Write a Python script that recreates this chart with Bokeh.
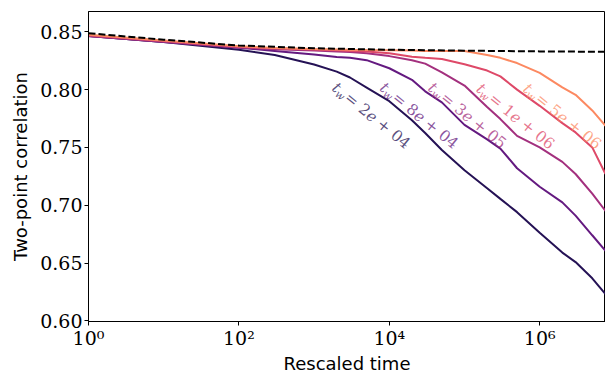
from bokeh.plotting import figure
from bokeh.models import Range1d, FixedTicker, PrintfTickFormatter, ColumnDataSource
from bokeh.core.properties import value
from bokeh.embed import file_html
from bokeh.resources import INLINE
import math

# ---- data ----
times = [1, 10, 100, 300, 1000, 2000, 3000, 5000, 10000, 20000, 30000, 50000,
         100000, 200000, 300000, 500000, 1000000, 2000000, 3000000, 5000000, 7500000]

corr_2e4 = [0.8465, 0.8412, 0.8345, 0.8300, 0.8218, 0.8156, 0.8105, 0.8018, 0.7900, 0.7735, 0.7625,
            0.7478, 0.7302, 0.7147, 0.7055, 0.6940, 0.6762, 0.6590, 0.6508, 0.6368, 0.6231]
corr_8e4 = [0.8465, 0.8412, 0.8362, 0.8335, 0.8305, 0.8283, 0.8275, 0.8255, 0.8185, 0.8085, 0.7985,
            0.7890, 0.7695, 0.7570, 0.7490, 0.7320, 0.7160, 0.7025, 0.6910, 0.6740, 0.6606]
corr_3e5 = [0.8465, 0.8415, 0.8365, 0.8350, 0.8338, 0.8330, 0.8325, 0.8315, 0.8290, 0.8255, 0.8225,
            0.8150, 0.8035, 0.7850, 0.7745, 0.7600, 0.7500, 0.7375, 0.7270, 0.7100, 0.6950]
corr_1e6 = [0.8470, 0.8420, 0.8370, 0.8358, 0.8348, 0.8340, 0.8335, 0.8330, 0.8315, 0.8285, 0.8275,
            0.8265, 0.8220, 0.8165, 0.8115, 0.8000, 0.7860, 0.7710, 0.7630, 0.7500, 0.7270]
corr_5e6 = [0.8475, 0.8425, 0.8375, 0.8360, 0.8352, 0.8348, 0.8345, 0.8342, 0.8340, 0.8338, 0.8335,
            0.8335, 0.8335, 0.8300, 0.8275, 0.8230, 0.8145, 0.8020, 0.7955, 0.7820, 0.7687]

series = [corr_2e4, corr_8e4, corr_3e5, corr_1e6, corr_5e6]
waiting_time_text = ["2", "8", "3", "1", "5"]
waiting_time_exp = ["04", "04", "05", "06", "06"]
colors = ["#251255", "#641a80", "#a3307e", "#de4968", "#fc8961"]

limit_times = [1, 10, 100, 1000, 10000, 100000, 1000000, 7500000]
limit_corr = [0.8488, 0.8432, 0.8382, 0.8358, 0.8345, 0.8337, 0.8331, 0.8327]

# label anchor points (start of the baseline) in data coordinates
label_t = [1850, 8000, 35000, 153000, 640000]
label_c = [0.8035, 0.8035, 0.8035, 0.8027, 0.8027]

x_ticks = [1, 100, 10000, 1000000]
x_tick_text = ["10\u2070", "10\u00b2", "10\u2074", "10\u2076"]
y_ticks = [0.60, 0.65, 0.70, 0.75, 0.80, 0.85]

# ---- figure ----
p = figure(width=605, height=376, x_axis_type="log",
           x_range=Range1d(1, 7.5e6), y_range=Range1d(0.5994, 0.8676),
           output_backend="svg", toolbar_location=None,
           min_border_left=88, min_border_right=0, min_border_top=11, min_border_bottom=55)
p.grid.visible = False
p.outline_line_color = "black"
p.outline_line_width = 1
p.background_fill_color = "white"
p.border_fill_color = "white"

for vals, col in zip(series, colors):
    p.line(times, vals, line_color=col, line_width=2)

p.line(limit_times, limit_corr, line_color="black", line_width=2, line_dash="7 3")

# rotated labels "t_w = Ne + XX"
theta = math.radians(39)
ux, uy = math.cos(theta), math.sin(theta)
nx, ny = -math.sin(theta), math.cos(theta)

def offs(a, b):
    return a * ux + b * nx, a * uy + b * ny

src = ColumnDataSource(dict(
    x=label_t, y=label_c, color=colors,
    t=["t"] * 5, w=["w"] * 5,
    mid=["= " + s for s in waiting_time_text],
    e=["e"] * 5,
    tail=["+ " + s for s in waiting_time_exp],
))

pieces = [("t", 0, 0, "15.5px", "italic"),
          ("w", 6, 3.5, "10.5px", "italic"),
          ("mid", 16, 0, "15.5px", "normal"),
          ("e", 44, 0, "15.5px", "italic"),
          ("tail", 57.5, 0, "15.5px", "normal")]
for field, a, b, size, style in pieces:
    xo, yo = offs(a, b)
    p.text(x="x", y="y", text=field, source=src, angle=-theta,
           x_offset=xo, y_offset=yo,
           text_color="color", text_alpha=0.75,
           text_font=value("DejaVu Serif"), text_font_size=size,
           text_font_style=style, text_align="left", text_baseline="alphabetic")

# ---- axes ----
xa = p.xaxis[0]
xa.ticker = FixedTicker(ticks=x_ticks, minor_ticks=[])
xa.major_label_overrides = {k: v for k, v in zip(x_ticks, x_tick_text)}
xa.axis_label = "Rescaled time"

ya = p.yaxis[0]
ya.ticker = FixedTicker(ticks=y_ticks, minor_ticks=[])
ya.formatter = PrintfTickFormatter(format="%.2f")
ya.axis_label = "Two-point correlation"

for ax in (xa, ya):
    ax.axis_line_color = "black"
    ax.major_tick_line_color = "black"
    ax.major_tick_out = 4
    ax.major_tick_in = 0
    ax.minor_tick_line_color = None
    ax.major_label_text_font = "DejaVu Serif"
    ax.major_label_text_font_size = "19px"
    ax.major_label_text_color = "black"
    ax.axis_label_text_font = "DejaVu Sans"
    ax.axis_label_text_font_size = "18px"
    ax.axis_label_text_font_style = "normal"
    ax.axis_label_text_color = "black"

xa.major_label_standoff = 1
xa.axis_label_standoff = 1
ya.major_label_standoff = 2
ya.axis_label_standoff = 6

open("out.html", "w").write(file_html(p, INLINE))
